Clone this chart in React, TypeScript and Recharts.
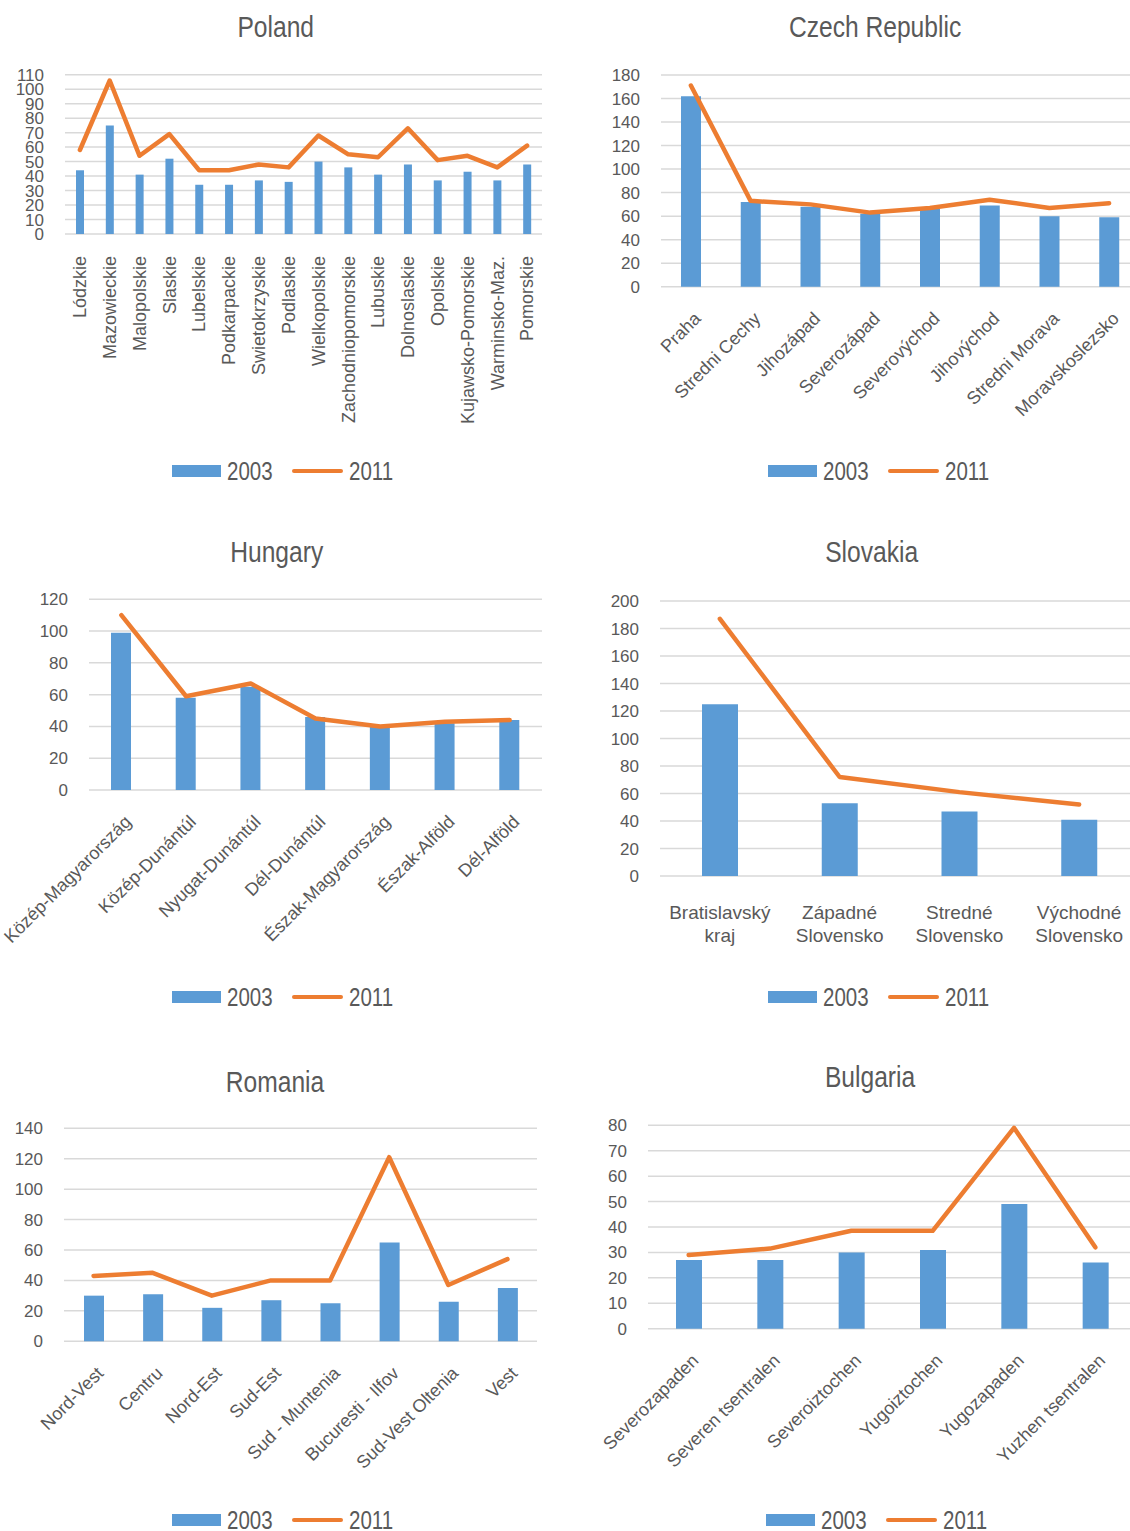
import React from 'react';
import { ComposedChart, Bar, Line, XAxis, YAxis, CartesianGrid } from 'recharts';

const BLUE = '#5B9BD5';
const ORANGE = '#ED7D31';
const TEXT = '#595959';
const GRID = '#D9D9D9';
const FONT = '"Liberation Sans", Arial, sans-serif';

// Poland
const plRegions = [
  'Lódzkie', 'Mazowieckie', 'Malopolskie', 'Slaskie', 'Lubelskie', 'Podkarpackie',
  'Swietokrzyskie', 'Podlaskie', 'Wielkopolskie', 'Zachodniopomorskie', 'Lubuskie',
  'Dolnoslaskie', 'Opolskie', 'Kujawsko-Pomorskie', 'Warminsko-Maz.', 'Pomorskie',
];
const pl2003 = [44, 75, 41, 52, 34, 34, 37, 36, 50, 46, 41, 48, 37, 43, 37, 48];
const pl2011 = [58, 106, 54, 69, 44, 44, 48, 46, 68, 55, 53, 73, 51, 54, 46, 61];
const plTicks = [0, 10, 20, 30, 40, 50, 60, 70, 80, 90, 100, 110];

// Czech Republic
const czRegions = [
  'Praha', 'Stredni Cechy', 'Jihozápad', 'Severozápad', 'Severovýchod',
  'Jihovýchod', 'Stredni Morava', 'Moravskoslezsko',
];
const cz2003 = [162, 72, 68, 62, 66, 69, 60, 59];
const cz2011 = [171, 73, 70, 63, 67, 74, 67, 71];
const czTicks = [0, 20, 40, 60, 80, 100, 120, 140, 160, 180];

// Hungary
const huRegions = [
  'Közép-Magyarország', 'Közép-Dunántúl', 'Nyugat-Dunántúl', 'Dél-Dunántúl',
  'Észak-Magyarország', 'Észak-Alföld', 'Dél-Alföld',
];
const hu2003 = [99, 58, 65, 46, 40, 42, 44];
const hu2011 = [110, 59, 67, 45, 40, 43, 44];
const huTicks = [0, 20, 40, 60, 80, 100, 120];

// Slovakia
const skRegions = ['Bratislavský\nkraj', 'Západné\nSlovensko', 'Stredné\nSlovensko', 'Východné\nSlovensko'];
const sk2003 = [125, 53, 47, 41];
const sk2011 = [187, 72, 61, 52];
const skTicks = [0, 20, 40, 60, 80, 100, 120, 140, 160, 180, 200];

// Romania
const roRegions = [
  'Nord-Vest', 'Centru', 'Nord-Est', 'Sud-Est', 'Sud - Muntenia',
  'Bucuresti - Ilfov', 'Sud-Vest Oltenia', 'Vest',
];
const ro2003 = [30, 31, 22, 27, 25, 65, 26, 35];
const ro2011 = [43, 45, 30, 40, 40, 121, 37, 54];
const roTicks = [0, 20, 40, 60, 80, 100, 120, 140];

// Bulgaria
const bgRegions = [
  'Severozapaden', 'Severen tsentralen', 'Severoiztochen', 'Yugoiztochen',
  'Yugozapaden', 'Yuzhen tsentralen',
];
const bg2003 = [27, 27, 30, 31, 49, 26];
const bg2011 = [29, 31.5, 38.5, 38.5, 79, 32];
const bgTicks = [0, 10, 20, 30, 40, 50, 60, 70, 80];

type Rect = { left: number; right: number; top: number; bottom: number };
type LabelMode = 'vertical' | 'diagonal' | 'flat';

type PanelProps = {
  title: string;
  titleX: number;
  titleY: number;
  regions: string[];
  v2003: number[];
  v2011: number[];
  ticks: number[];
  plot: Rect;
  x0: number;
  y0: number;
  height: number;
  barSize: number;
  labels: LabelMode;
  legendX: number;
  legendY: number;
};

function CategoryTick(props: any) {
  const { x, y, payload, mode } = props;
  const label: string = payload.value;
  if (mode === 'vertical') {
    const ty = y + 22;
    return (
      <text x={x} y={ty} dy="0.35em" textAnchor="end" fill={TEXT} fontSize={18}
        fontFamily={FONT} transform={`rotate(-90, ${x}, ${ty})`}>
        {label}
      </text>
    );
  }
  if (mode === 'diagonal') {
    const tx = x + 2;
    const ty = y + 24;
    return (
      <text x={tx} y={ty} dy="0.71em" textAnchor="end" fill={TEXT} fontSize={18}
        fontFamily={FONT} transform={`rotate(-45, ${tx}, ${ty})`}>
        {label}
      </text>
    );
  }
  const lines = label.split('\n');
  return (
    <text x={x} y={y + 43} textAnchor="middle" fill={TEXT} fontSize={19} fontFamily={FONT}>
      {lines.map((l, i) => (
        <tspan key={i} x={x} dy={i === 0 ? 0 : 23}>{l}</tspan>
      ))}
    </text>
  );
}

// condensed text: the reference uses a narrow face, so squeeze Liberation Sans
const narrow = (size: number, origin: string): React.CSSProperties => ({
  fontFamily: FONT, fontSize: size, color: TEXT, whiteSpace: 'nowrap',
  display: 'inline-block', transform: 'scaleX(0.82)', transformOrigin: origin,
});

function Legend2({ x, y }: { x: number; y: number }) {
  const lh = 20;
  const txt = (left: number, s: string) => (
    <span style={{ ...narrow(25, 'left center'), position: 'absolute', left, top: 0, lineHeight: `${lh}px` }}>{s}</span>
  );
  return (
    <div style={{ position: 'absolute', left: x, top: y - lh / 2, width: 240, height: lh }}>
      <span style={{ position: 'absolute', left: 0, top: lh / 2 - 6, width: 49, height: 12, background: BLUE }} />
      {txt(55, '2003')}
      <span style={{ position: 'absolute', left: 120, top: lh / 2 - 2, width: 51, height: 4, borderRadius: 2, background: ORANGE }} />
      {txt(177, '2011')}
    </div>
  );
}

function Panel(p: PanelProps) {
  const data = p.regions.map((name, i) => ({ name, y2003: p.v2003[i], y2011: p.v2011[i] }));
  const width = p.plot.right - p.x0;
  const yAxisWidth = p.plot.left - p.x0;
  const xAxisHeight = p.y0 + p.height - p.plot.bottom;
  const top = p.plot.top - p.y0;
  const max = p.ticks[p.ticks.length - 1];
  return (
    <>
      <div style={{
        position: 'absolute', left: p.titleX - 200, top: p.titleY - 18, width: 400, height: 36,
        textAlign: 'center', lineHeight: '36px',
      }}>
        <span style={narrow(30, 'center center')}>{p.title}</span>
      </div>
      <div style={{ position: 'absolute', left: p.x0, top: p.y0 }}>
        <ComposedChart width={width} height={p.height} data={data}
          margin={{ top, right: 0, bottom: 0, left: 0 }} style={{ overflow: 'visible' }}>
          <CartesianGrid vertical={false} stroke={GRID} strokeWidth={1.5} />
          <XAxis dataKey="name" interval={0} axisLine={false} tickLine={false} tickSize={0} tickMargin={0}
            height={xAxisHeight} tick={<CategoryTick mode={p.labels} />} />
          <YAxis domain={[0, max]} ticks={p.ticks} interval={0} axisLine={false} tickLine={false}
            tickSize={0} tickMargin={21} width={yAxisWidth}
            tick={{ fill: TEXT, fontSize: 17, fontFamily: FONT }} />
          <Bar dataKey="y2003" fill={BLUE} barSize={p.barSize} isAnimationActive={false} />
          <Line type="linear" dataKey="y2011" stroke={ORANGE} strokeWidth={4.5} dot={false}
            activeDot={false} strokeLinecap="round" strokeLinejoin="round" isAnimationActive={false} />
        </ComposedChart>
      </div>
      <Legend2 x={p.legendX} y={p.legendY} />
    </>
  );
}

export default function App() {
  return (
    <div style={{
      position: 'absolute', left: 0, top: 0, width: 1130, height: 1531,
      overflow: 'hidden', background: '#fff', fontFamily: FONT,
    }}>
      <Panel title="Poland" titleX={276} titleY={27} regions={plRegions} v2003={pl2003} v2011={pl2011}
        ticks={plTicks} plot={{ left: 65, right: 542, top: 74.7, bottom: 234 }} x0={0} y0={50} height={400}
        barSize={8} labels="vertical" legendX={172} legendY={471} />
      <Panel title="Czech Republic" titleX={875} titleY={27} regions={czRegions} v2003={cz2003} v2011={cz2011}
        ticks={czTicks} plot={{ left: 661, right: 1139, top: 75, bottom: 286.7 }} x0={590} y0={50} height={400}
        barSize={20} labels="diagonal" legendX={768} legendY={471} />
      <Panel title="Hungary" titleX={277} titleY={552} regions={huRegions} v2003={hu2003} v2011={hu2011}
        ticks={huTicks} plot={{ left: 89, right: 542, top: 599.3, bottom: 790 }} x0={0} y0={575} height={400}
        barSize={20} labels="diagonal" legendX={172} legendY={997} />
      <Panel title="Slovakia" titleX={872} titleY={552} regions={skRegions} v2003={sk2003} v2011={sk2011}
        ticks={skTicks} plot={{ left: 660, right: 1139, top: 601, bottom: 876 }} x0={590} y0={575} height={380}
        barSize={36} labels="flat" legendX={768} legendY={997} />
      <Panel title="Romania" titleX={275} titleY={1082} regions={roRegions} v2003={ro2003} v2011={ro2011}
        ticks={roTicks} plot={{ left: 64, right: 537, top: 1128.3, bottom: 1341.3 }} x0={0} y0={1100} height={390}
        barSize={20} labels="diagonal" legendX={172} legendY={1520} />
      <Panel title="Bulgaria" titleX={870} titleY={1077} regions={bgRegions} v2003={bg2003} v2011={bg2011}
        ticks={bgTicks} plot={{ left: 648, right: 1136, top: 1125.3, bottom: 1328.7 }} x0={590} y0={1100} height={390}
        barSize={26} labels="diagonal" legendX={766} legendY={1520} />
    </div>
  );
}
